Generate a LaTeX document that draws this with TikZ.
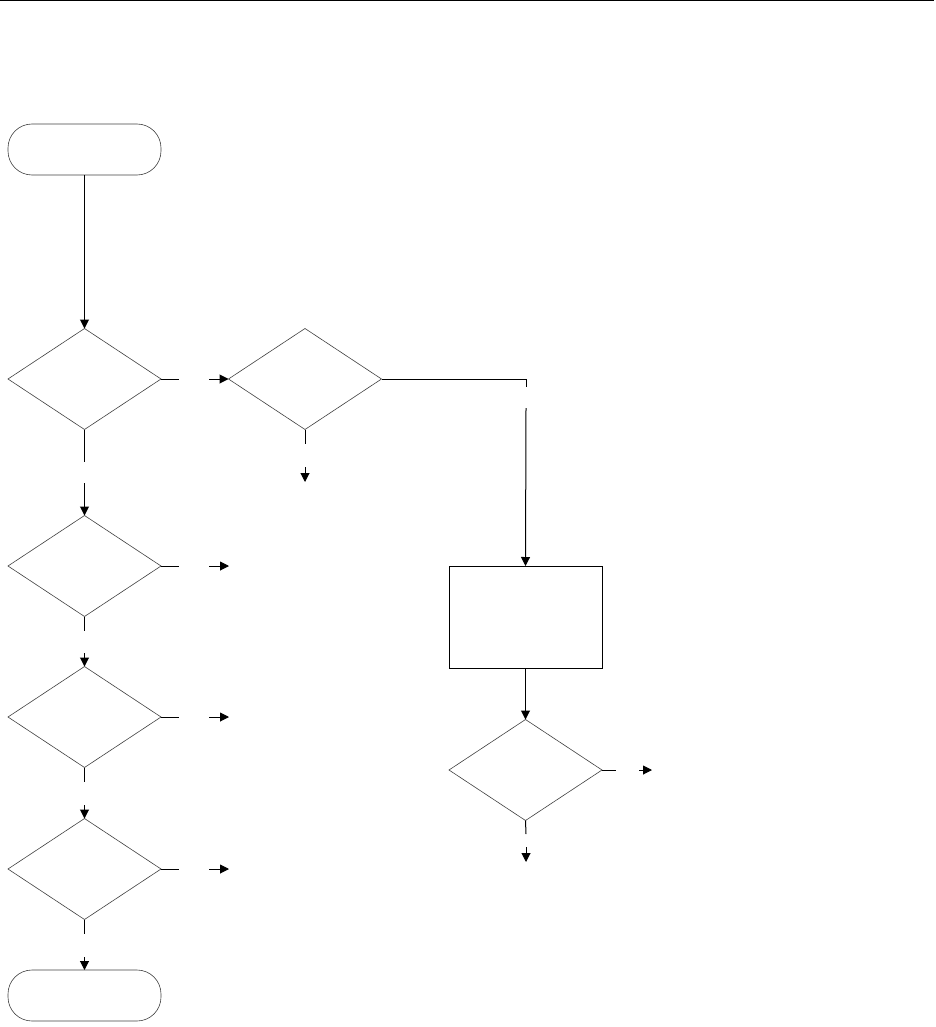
\documentclass[tikz,border=0pt]{standalone}
\usetikzlibrary{shapes.geometric,arrows.meta}
\begin{document}
\begin{tikzpicture}[x=1pt,y=-1pt,
  every node/.style={inner sep=0pt,outer sep=0pt},
  dec/.style={diamond,draw=black!75,line width=0.6pt,minimum width=153pt,minimum height=101pt},
  term/.style={rectangle,rounded corners=24pt,draw=black!75,line width=0.6pt,minimum width=153pt,minimum height=51pt},
  proc/.style={rectangle,draw=black,line width=1pt,minimum width=153pt,minimum height=102pt},
  conn/.style={draw=black,line width=1pt},
  arr/.style={conn,-{Triangle[length=9pt,width=9pt]}}]
\useasboundingbox (0,0) rectangle (936,1027);
\coordinate (tl) at (0,1);
\coordinate (tr) at (934,1);
\draw[conn] (tl) -- (tr);
\node[term] (start) at (84.5,149.5) {};
\node[dec] (d1) at (84.5,379) {};
\node[dec] (d2) at (305,379) {};
\node[dec] (d3) at (84.5,566) {};
\node[dec] (d4) at (84.5,717) {};
\node[dec] (d6) at (84.5,869) {};
\node[term] (end) at (84.5,995.5) {};
\node[proc] (box) at (525.5,617) {};
\node[dec] (d5) at (525.5,770) {};
% coordinates of gap ends
\coordinate (a1) at (179,379); \coordinate (b1) at (209,379);
\coordinate (a2) at (84.5,462); \coordinate (b2) at (84.5,483);
\coordinate (a3) at (305,444); \coordinate (b3) at (305,467); \coordinate (c3) at (305,482);
\coordinate (k) at (526,379); \coordinate (a4) at (526,387); \coordinate (b4) at (526,408);
\coordinate (a5) at (616,770); \coordinate (b5) at (639,770); \coordinate (c5) at (652,770);
\coordinate (a6) at (526,834); \coordinate (b6) at (526,847); \coordinate (c6) at (526,862);
\coordinate (a7) at (179,566); \coordinate (b7) at (209,566); \coordinate (c7) at (229,566);
\coordinate (a8) at (84.5,631); \coordinate (b8) at (84.5,653);
\coordinate (a9) at (179,717); \coordinate (b9) at (209,717); \coordinate (c9) at (229,717);
\coordinate (a10) at (84.5,782); \coordinate (b10) at (84.5,805);
\coordinate (a11) at (179,869); \coordinate (b11) at (209,869); \coordinate (c11) at (229,869);
\coordinate (a12) at (84.5,934); \coordinate (b12) at (84.5,957);
% connectors
\draw[arr] (start.south) -- (d1.north);
\draw[conn] (d1.east) -- (a1); \draw[arr] (b1) -- (d2.west);
\draw[conn] (d1.south) -- (a2); \draw[arr] (b2) -- (d3.north);
\draw[conn] (d2.south) -- (a3); \draw[arr] (b3) -- (c3);
\draw[conn] (d2.east) -- (k) -- (a4); \draw[arr] (b4) -- (box.north);
\draw[arr] (box.south) -- (d5.north);
\draw[conn] (d5.east) -- (a5); \draw[arr] (b5) -- (c5);
\draw[conn] (d5.south) -- (a6); \draw[arr] (b6) -- (c6);
\draw[conn] (d3.east) -- (a7); \draw[arr] (b7) -- (c7);
\draw[conn] (d3.south) -- (a8); \draw[arr] (b8) -- (d4.north);
\draw[conn] (d4.east) -- (a9); \draw[arr] (b9) -- (c9);
\draw[conn] (d4.south) -- (a10); \draw[arr] (b10) -- (d6.north);
\draw[conn] (d6.east) -- (a11); \draw[arr] (b11) -- (c11);
\draw[conn] (d6.south) -- (a12); \draw[arr] (b12) -- (end.north);
\end{tikzpicture}
\end{document}
